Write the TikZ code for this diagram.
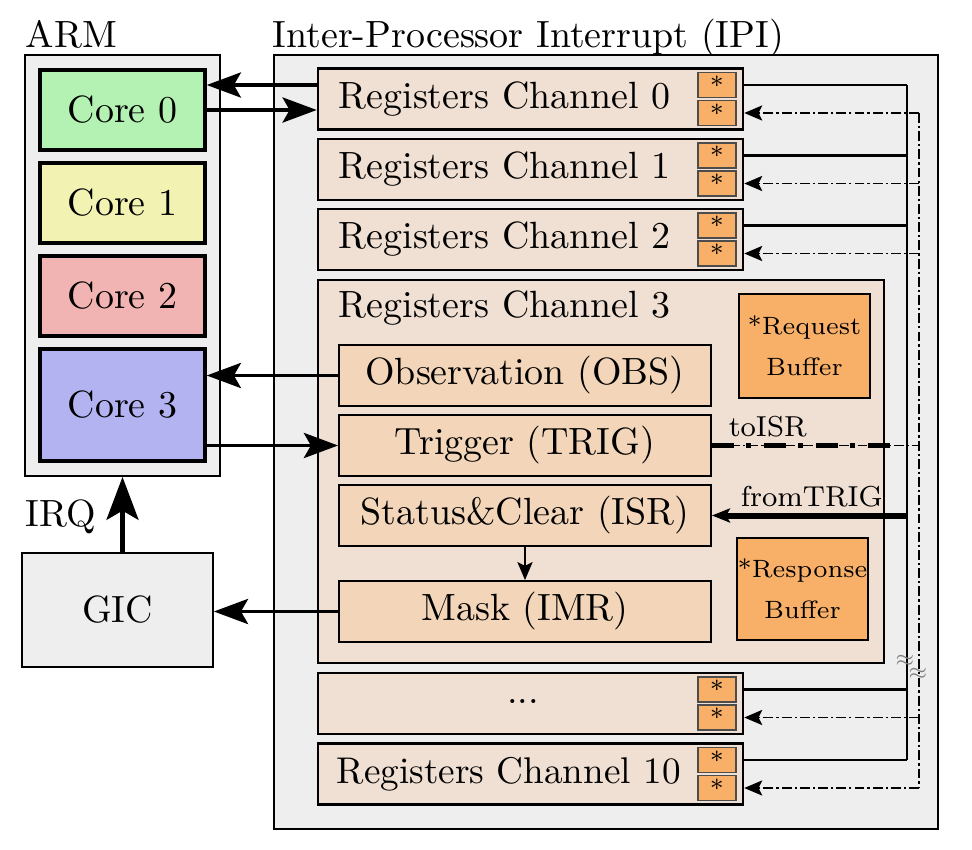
\documentclass[tikz,border=0pt]{standalone}
\usetikzlibrary{arrows.meta}
\definecolor{coreA}{HTML}{B3F2B3}
\definecolor{coreB}{HTML}{F2F2B3}
\definecolor{coreC}{HTML}{F2B3B3}
\definecolor{coreD}{HTML}{B3B3F2}
\definecolor{gbg}{HTML}{EEEEEE}
\definecolor{chanc}{HTML}{F0E0D3}
\definecolor{regc}{HTML}{F3D5B9}
\definecolor{orng}{HTML}{F8B068}
\begin{document}
\begin{tikzpicture}[x=0.2636pt,y=-0.2636pt,
  box/.style={draw, rectangle, inner sep=0pt},
  corebox/.style={box, line width=0.92pt, minimum width=43.49pt, minimum height=21.09pt},
  grpbox/.style={box, fill=gbg, line width=0.45pt},
  chan/.style={box, fill=chanc, line width=0.66pt, minimum width=112.03pt, minimum height=16.2pt},
  starbox/.style={box, fill=orng, draw=black!70, line width=0.3pt, minimum width=10.02pt, minimum height=6.59pt, font=\fontsize{6.5}{7}\selectfont},
  reg/.style={box, fill=regc, line width=0.5pt, minimum width=98.06pt, minimum height=16.08pt},
  buf/.style={box, fill=orng, line width=0.5pt, minimum width=34.53pt, align=center, font=\fontsize{6.6}{10.8}\selectfont},
  big/.style={line width=1.05pt, -{Stealth[length=9pt,width=6.6pt,inset=1.85pt]}},
  small/.style={-{Stealth[length=4.75pt,width=4pt,inset=1pt]}},
  dd/.style={line width=0.5pt, dash pattern=on 2.6pt off 0.8pt on 0.6pt off 0.8pt},
  lbl/.style={inner sep=0pt},
  bus/.style={line width=0.6pt},
]
\useasboundingbox (0,0) rectangle (972,850);

% ARM group
\node[lbl, anchor=base west] (armt) at (25,47) {ARM};
\node[grpbox, minimum width=51.4pt, minimum height=110.98pt] (arm) at (122.5,265.5) {};
\node[corebox, fill=coreA] (c0) at (122.5,110) {Core 0};
\node[corebox, fill=coreB] (c1) at (122.5,203) {Core 1};
\node[corebox, fill=coreC] (c2) at (122.5,296) {Core 2};
\node[corebox, fill=coreD, minimum height=29.52pt] (c3) at (122.5,405) {Core 3};

% GIC
\node[grpbox, minimum width=50.35pt, minimum height=30.05pt] (gic) at (117.5,610) {GIC};
\node[lbl, anchor=base west] (irq) at (25,526) {IRQ};

% IPI group
\node[lbl, anchor=base west] (ipit) at (272,47) {Inter-Processor Interrupt (IPI)};
\node[grpbox, minimum width=175.03pt, minimum height=204.03pt] (ipi) at (606,442) {};

% channels
\node[chan] (ch0) at (530.5,99) {};
\node[lbl, anchor=west] (ch0t) at (338,99) {Registers Channel 0};
\node[starbox] (s0a) at (717,85) {*};
\node[starbox] (s0b) at (717,113) {*};

\node[chan] (ch1) at (530.5,169.5) {};
\node[lbl, anchor=west] (ch1t) at (338,169.5) {Registers Channel 1};
\node[starbox] (s1a) at (717,155.5) {*};
\node[starbox] (s1b) at (717,183.5) {*};

\node[chan] (ch2) at (530.5,239.5) {};
\node[lbl, anchor=west] (ch2t) at (338,239.5) {Registers Channel 2};
\node[starbox] (s2a) at (717,225.5) {*};
\node[starbox] (s2b) at (717,253.5) {*};

\node[chan] (chx) at (530.5,703.5) {};
\node[lbl] (chxt) at (523,701) {...};
\node[starbox] (sxa) at (717,689.5) {*};
\node[starbox] (sxb) at (717,717.5) {*};

\node[chan] (ch10) at (530.5,774) {};
\node[lbl, anchor=west, font=\fontsize{9.8}{12}\selectfont] (ch10t) at (336,774) {Registers Channel 10};
\node[starbox] (s10a) at (717,760) {*};
\node[starbox] (s10b) at (717,788) {*};

% channel 3
\node[chan, minimum width=149.2pt, minimum height=100.96pt] (ch3) at (601,471.5) {};
\node[lbl, anchor=west] (ch3t) at (338,308) {Registers Channel 3};
\node[reg] (obs) at (525,375.5) {Observation (OBS)};
\node[reg] (trig) at (525,445.5) {Trigger (TRIG)};
\node[reg] (stat) at (525,515.5) {Status\&Clear (ISR)};
\node[reg] (mask) at (525,611.5) {Mask (IMR)};
\node[buf, minimum height=27.41pt] (req) at (804.5,346) {*Request\\Buffer};
\node[buf, minimum height=26.89pt] (resp) at (802.5,589) {*Response\\Buffer};

% bus coordinates
\coordinate (bs) at (907,0);
\coordinate (bd) at (919,0);

% solid bus
\draw[bus] (s0a -| bs) -- (s10a -| bs);
\foreach \c/\s in {ch0/s0a,ch1/s1a,ch2/s2a,chx/sxa,ch10/s10a}
  \draw[bus] (\c.east |- \s) -- (\s -| bs);
% dash-dot bus
\draw[dd] (s0b -| bd) -- (s10b -| bd);
\foreach \c/\s in {ch0/s0b,ch1/s1b,ch2/s2b,chx/sxb,ch10/s10b}
  \draw[dd, small] (\s -| bd) -- (\c.east |- \s);

\node[lbl, text=gray, font=\fontsize{4}{5}\selectfont] (br1) at (905,661) {$\approx$};
\node[lbl, text=gray, font=\fontsize{4}{5}\selectfont] (br2) at (918,674) {$\approx$};

% core <-> channel 0
\coordinate (k0a) at ([yshift=3.69pt]ch0.west);
\coordinate (k0b) at ([yshift=-2.9pt]ch0.west);
\draw[big] (k0a) -- (k0a -| c0.east);
\draw[big] (k0b -| c0.east) -- (k0b);

% core 3 <-> channel 3
\draw[big] (obs.west) -- (obs.west -| c3.east);
\draw[big] (trig.west -| c3.east) -- (trig.west);
\draw[big] (mask.west) -- (mask.west -| gic.east);
\draw[line width=1.32pt, -{Stealth[length=11.3pt,width=8.4pt,inset=2.4pt]}] (arm.south |- gic.north) -- (arm.south);
\draw[line width=0.5pt, small] (stat.south) -- (mask.north);

% toISR / fromTRIG
\draw[dd] (trig.east) -- (trig.east -| bd);
\coordinate (tend) at (890,445.5);
\draw[line width=1.2pt, dash pattern=on 5.8pt off 3.16pt on 1.32pt off 3.43pt] (trig.east) -- (tend);
\node[lbl, anchor=west, font=\fontsize{7.6}{9}\selectfont] (toisr) at (728,427) {toISR};
\draw[line width=1.58pt, -{Stealth[length=4.75pt,width=3.7pt,inset=1pt]}] (stat.east -| bs) -- (stat.east);
\node[lbl, anchor=west, font=\fontsize{7.6}{9}\selectfont] (fromtrig) at (740,497) {fromTRIG};
\end{tikzpicture}
\end{document}
